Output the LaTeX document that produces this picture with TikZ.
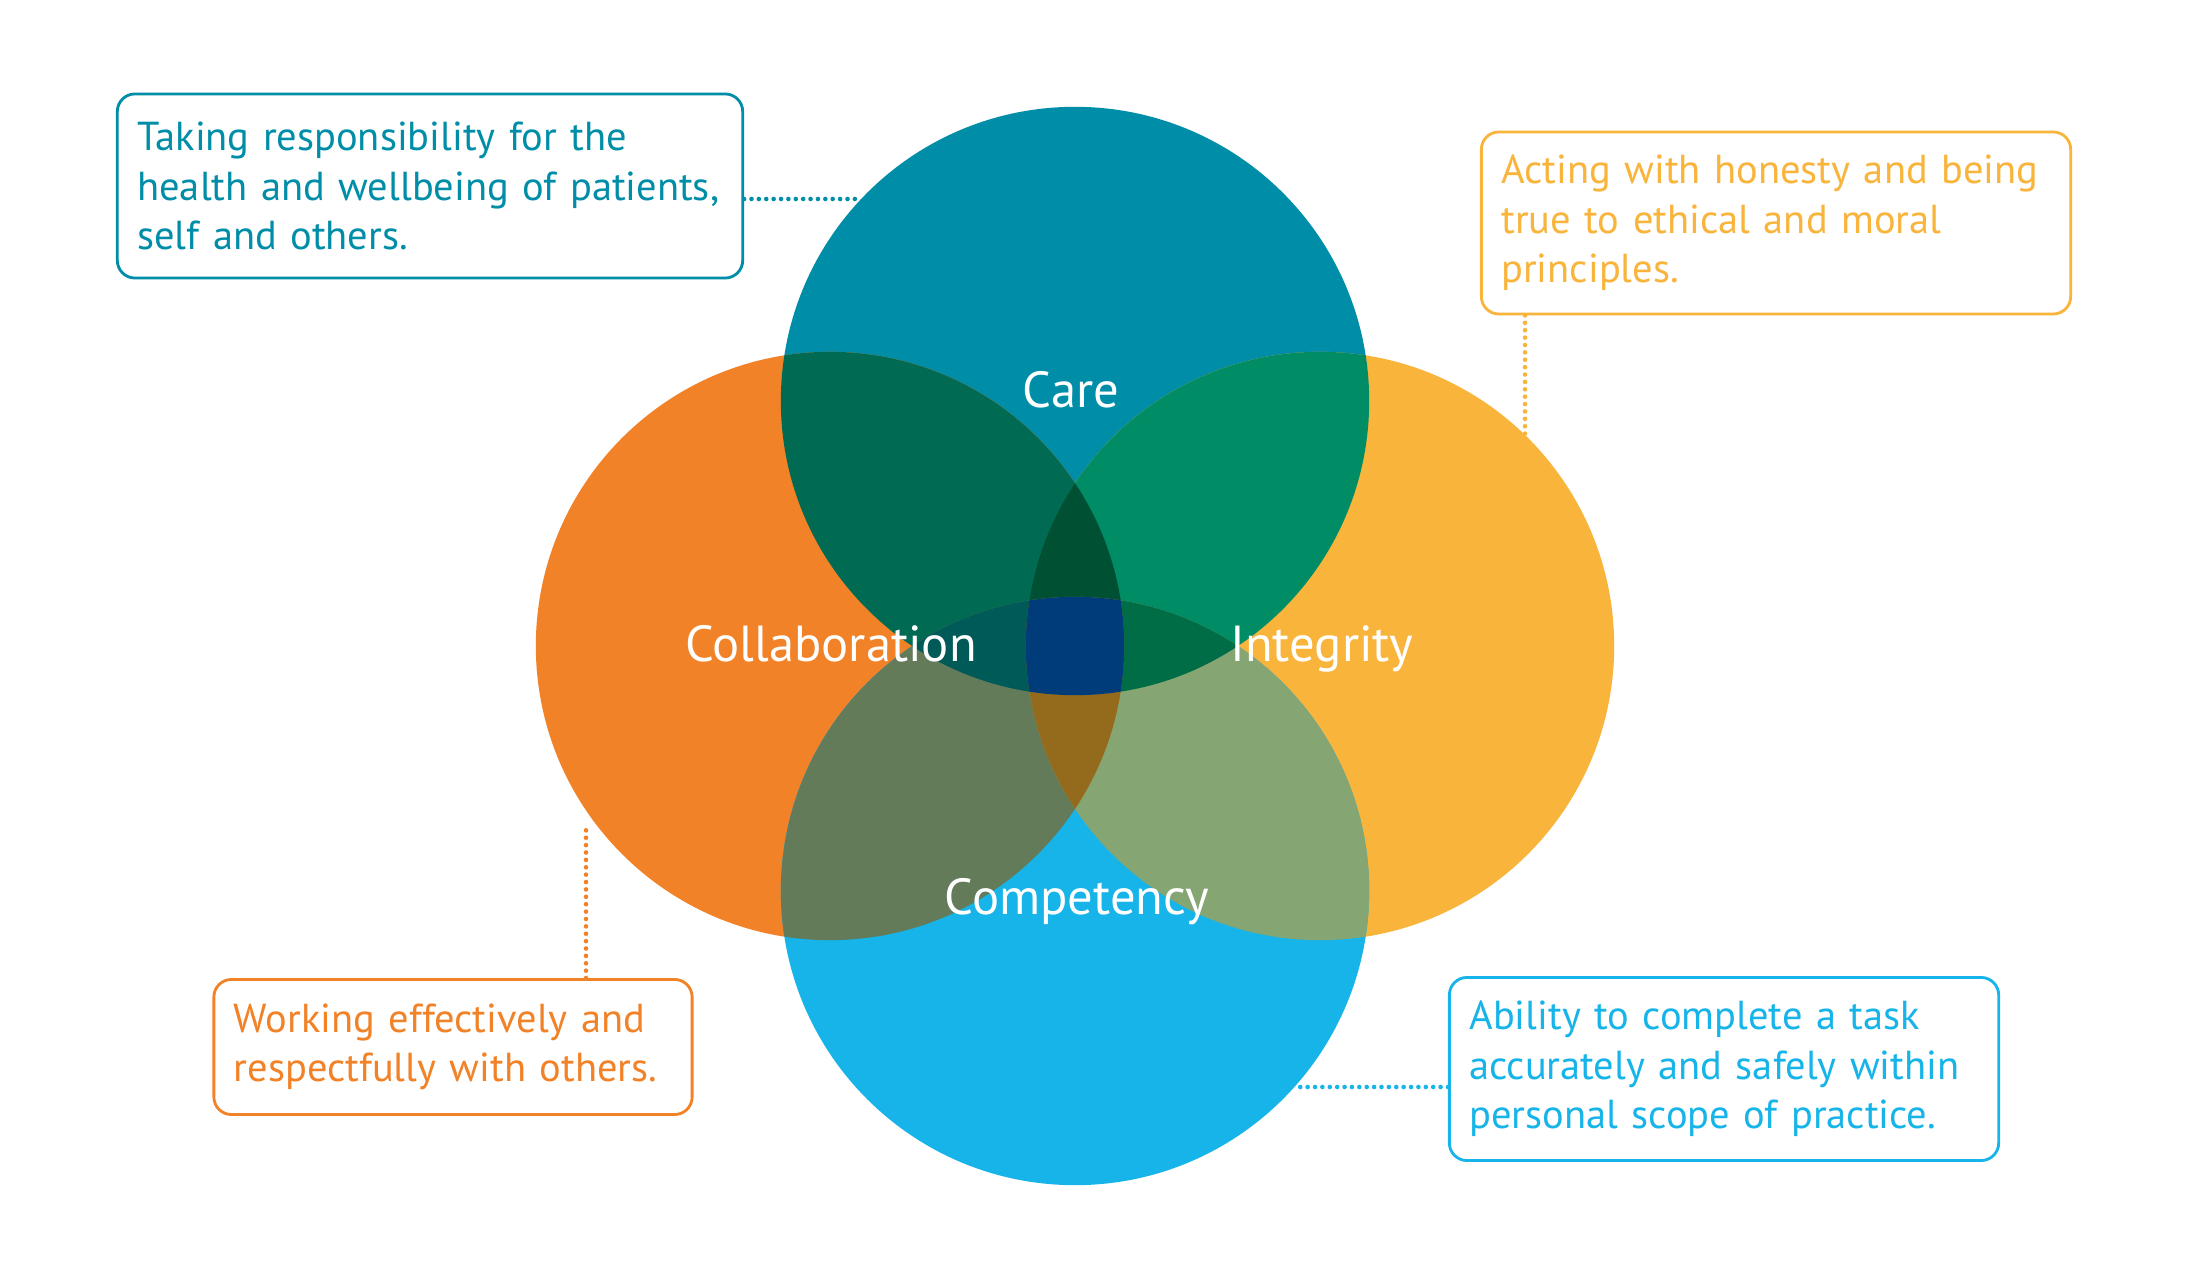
\documentclass[tikz,border=0pt]{standalone}
\usepackage{fontspec}
\setmainfont{PT Sans}
\usetikzlibrary{positioning}

\definecolor{carecol}{RGB}{0,141,168}
\definecolor{collabcol}{RGB}{242,130,40}
\definecolor{integcol}{RGB}{249,180,60}
\definecolor{compcol}{RGB}{22,180,232}
\definecolor{carecollab}{RGB}{0,107,82}
\definecolor{careinteg}{RGB}{0,140,100}
\definecolor{collabcomp}{RGB}{100,123,90}
\definecolor{integcomp}{RGB}{133,166,114}
\definecolor{tritop}{RGB}{0,80,52}
\definecolor{trileft}{RGB}{0,90,88}
\definecolor{triright}{RGB}{0,109,70}
\definecolor{tribottom}{RGB}{148,106,28}
\definecolor{allfour}{RGB}{0,60,122}

\newcommand{\ringrad}{2.94cm}

\tikzset{
  infobox/.style={draw, line width=0.8pt, rounded corners=5pt, fill=white, align=left, inner xsep=0.2cm, font=\fontsize{11.5}{14.1}\selectfont},
  ringlabel/.style={text=white, anchor=base, font=\fontsize{14.4}{17}\selectfont},
  dotline/.style={line width=1.3pt, line cap=round, dash pattern=on 0pt off 2.1pt}
}

\begin{document}
\begin{tikzpicture}[x=0.01cm, y=-0.01cm]
\fill[white] (0,0) rectangle (2210,1280);
\useasboundingbox (0,0) rectangle (2210,1280);

\coordinate (careC) at (1075,401);
\coordinate (collabC) at (830,646);
\coordinate (integC) at (1320,646);
\coordinate (compC) at (1075,891);

% the four rings
\fill[carecol] (careC) circle[radius=\ringrad];
\fill[collabcol] (collabC) circle[radius=\ringrad];
\fill[integcol] (integC) circle[radius=\ringrad];
\fill[compcol] (compC) circle[radius=\ringrad];

% two-way overlaps
\begin{scope}
  \clip (careC) circle[radius=\ringrad];
  \fill[carecollab] (collabC) circle[radius=\ringrad];
  \fill[careinteg] (integC) circle[radius=\ringrad];
\end{scope}
\begin{scope}
  \clip (compC) circle[radius=\ringrad];
  \fill[collabcomp] (collabC) circle[radius=\ringrad];
  \fill[integcomp] (integC) circle[radius=\ringrad];
\end{scope}

% three-way overlaps
\begin{scope}
  \clip (careC) circle[radius=\ringrad];
  \clip (collabC) circle[radius=\ringrad];
  \fill[tritop] (integC) circle[radius=\ringrad];
  \fill[trileft] (compC) circle[radius=\ringrad];
\end{scope}
\begin{scope}
  \clip (integC) circle[radius=\ringrad];
  \clip (compC) circle[radius=\ringrad];
  \fill[triright] (careC) circle[radius=\ringrad];
  \fill[tribottom] (collabC) circle[radius=\ringrad];
\end{scope}

% centre
\begin{scope}
  \clip (careC) circle[radius=\ringrad];
  \clip (collabC) circle[radius=\ringrad];
  \clip (integC) circle[radius=\ringrad];
  \fill[allfour] (compC) circle[radius=\ringrad];
\end{scope}

\node[ringlabel] (careLabel) at (1071,408) {Care};
\node[ringlabel] (collabLabel) at (831,662) {Collaboration};
\node[ringlabel] (integLabel) at (1322,662) {Integrity};
\node[ringlabel] (compLabel) at (1077,915) {Competency};

% description boxes
\node[infobox, draw=carecol, text=carecol, text width=5.85cm, minimum height=1.84cm] (careBox) at (430,186) {Taking responsibility for the\\health and wellbeing of patients,\\self and others.};
\node[infobox, draw=integcol, text=integcol, text width=5.49cm, minimum height=1.82cm] (integBox) at (1776,223) {Acting with honesty and being\\true to ethical and moral\\principles.};
\node[infobox, draw=collabcol, text=collabcol, text width=4.38cm, minimum height=1.35cm] (collabBox) at (453,1047) {Working effectively and\\respectfully with others.};
\node[infobox, draw=compcol, text=compcol, text width=5.09cm, minimum height=1.83cm] (compBox) at (1724,1069) {Ability to complete a task\\accurately and safely within\\personal scope of practice.};

\coordinate (careEnd) at (857,199);
\coordinate (integEnd) at (1525,437);
\coordinate (collabEnd) at (586,826);
\coordinate (compEnd) at (1297,1087);

\draw[dotline, carecol] (careEnd -| careBox.east) -- (careEnd);
\draw[dotline, integcol] (integBox.south -| integEnd) -- (integEnd);
\draw[dotline, collabcol] (collabBox.north -| collabEnd) -- (collabEnd);
\draw[dotline, compcol] (compBox.west |- compEnd) -- (compEnd);
\end{tikzpicture}
\end{document}
